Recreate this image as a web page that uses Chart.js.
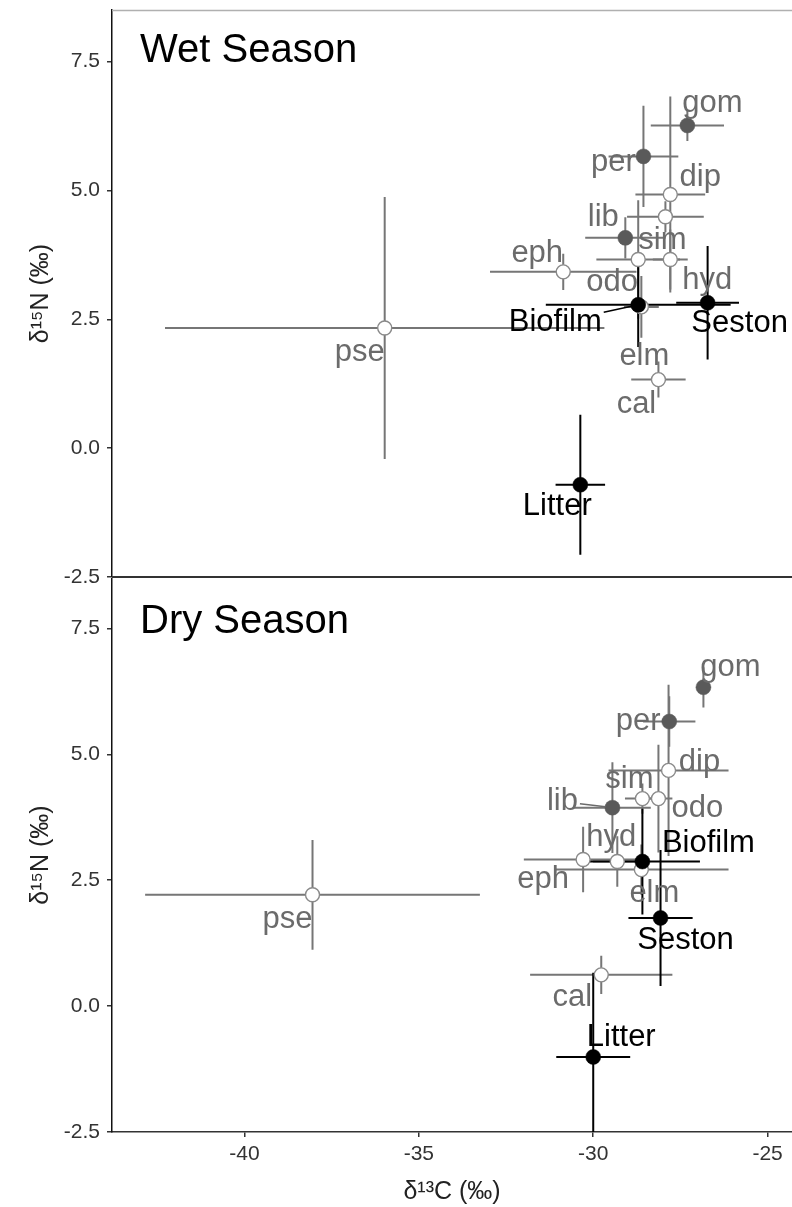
<!DOCTYPE html>
<html>
<head>
<meta charset="utf-8">
<script src="https://cdn.jsdelivr.net/npm/chart.js@4.4.0/dist/chart.umd.min.js"></script>
<style>
  body { margin: 0; background: #fff; }
  canvas { position: absolute; left: 0; }
  #wet { top: 0; }
  #dry { top: 578px; }
</style>
</head>
<body>
<canvas id="wet" width="792" height="600"></canvas>
<canvas id="dry" width="792" height="629"></canvas>
<script>
// consumers (same order in both seasons)
var taxa = ['gom', 'per', 'dip', 'sim', 'lib', 'odo', 'hyd', 'eph', 'elm', 'cal', 'pse'];
var predators = ['gom', 'per', 'lib'];
var sources = ['Biofilm', 'Seston', 'Litter'];

// wet season, consumers: mean d13C, mean d15N, sd
var wetC   = [-27.30, -28.56, -27.79, -27.93, -29.08, -28.71, -27.79, -30.86, -28.62, -28.13, -35.98];
var wetN   = [6.26, 5.66, 4.92, 4.49, 4.08, 3.66, 3.66, 3.42, 2.74, 1.33, 2.33];
var wetCsd = [1.05, 1.00, 1.00, 1.10, 1.15, 1.20, 0.50, 2.10, 0.50, 0.78, 6.30];
var wetNsd = [0.30, 0.98, 1.90, 0.30, 0.40, 1.15, 0.58, 0.35, 0.60, 0.35, 2.54];
// wet season, sources
var wetSrcC   = [-28.71, -26.72, -30.37];
var wetSrcN   = [2.78, 2.82, -0.71];
var wetSrcCsd = [2.65, 0.90, 0.71];
var wetSrcNsd = [0.82, 1.10, 1.36];

// dry season, consumers
var dryC   = [-26.84, -27.82, -27.84, -28.59, -29.45, -28.13, -29.31, -30.29, -28.62, -29.77, -38.05];
var dryN   = [6.33, 5.65, 4.68, 4.12, 3.94, 4.12, 2.87, 2.91, 2.71, 0.62, 2.21];
var dryCsd = [0.20, 0.75, 1.72, 0.50, 1.10, 0.40, 0.70, 1.70, 2.50, 2.04, 4.80];
var dryNsd = [0.40, 0.50, 1.70, 0.30, 0.90, 1.07, 0.50, 0.65, 0.50, 0.38, 1.09];
// dry season, sources
var drySrcC   = [-28.59, -28.07, -30.00];
var drySrcN   = [2.87, 1.75, -1.01];
var drySrcCsd = [1.65, 0.92, 1.06];
var drySrcNsd = [1.05, 1.35, 1.67];

var cTicks = [-40, -35, -30, -25];
var nTicks = [-2.5, 0, 2.5, 5, 7.5];

// label nudges in px (like ggrepel output)
var wetNudge = {
  gom: [25, -22], per: [-30, 6], dip: [30, -17], sim: [-3, 24], lib: [-22, -20],
  odo: [-26, 23], hyd: [37, 21], eph: [-26, -18], elm: [3, 50], cal: [-22, 25],
  pse: [-25, 24], Biofilm: [-83, 18], Seston: [32, 21], Litter: [-23, 22]
};
var dryNudge = {
  gom: [27, -20], per: [-31, 0], dip: [31, -8], sim: [-13, -19], lib: [-50, -6],
  odo: [39, 10], hyd: [-6, -24], eph: [-40, 20], elm: [13, 24], cal: [-29, 23],
  pse: [-25, 25], Biofilm: [66, -18], Seston: [25, 22], Litter: [28, -20]
};

var FONT = '"Liberation Sans", Arial, "DejaVu Sans", sans-serif';
Chart.defaults.font.family = FONT;

function subset(keep, C, N, Csd, Nsd) {
  var idx = [];
  taxa.forEach(function (t, i) { if (keep(t)) idx.push(i); });
  return {
    names: idx.map(function (i) { return taxa[i]; }),
    data: idx.map(function (i) { return { x: C[i], y: N[i] }; }),
    xErr: idx.map(function (i) { return Csd[i]; }),
    yErr: idx.map(function (i) { return Nsd[i]; })
  };
}

function seasonSets(C, N, Csd, Nsd, sC, sN, sCsd, sNsd) {
  var pred = subset(function (t) { return predators.indexOf(t) >= 0; }, C, N, Csd, Nsd);
  var rest = subset(function (t) { return predators.indexOf(t) < 0; }, C, N, Csd, Nsd);
  return [
    {
      label: 'sources', names: sources,
      data: sC.map(function (x, i) { return { x: x, y: sN[i] }; }),
      xErr: sCsd, yErr: sNsd,
      pointRadius: 7.5, pointBackgroundColor: '#000', pointBorderColor: '#000', pointBorderWidth: 0.5,
      barColor: '#000', textColor: '#000', order: 1
    },
    {
      label: 'predators', names: pred.names, data: pred.data, xErr: pred.xErr, yErr: pred.yErr,
      pointRadius: 7.5, pointBackgroundColor: '#5a5a5a', pointBorderColor: '#5a5a5a', pointBorderWidth: 0.5,
      barColor: '#767676', textColor: '#6b6b6b', order: 2
    },
    {
      label: 'others', names: rest.names, data: rest.data, xErr: rest.xErr, yErr: rest.yErr,
      pointRadius: 7, pointBackgroundColor: '#fff', pointBorderColor: '#8a8a8a', pointBorderWidth: 1.4,
      barColor: '#767676', textColor: '#6b6b6b', order: 3
    }
  ];
}

function panelPlugin(title, nudge, segs, isTop) {
  return {
    id: 'panel',
    beforeDatasetsDraw: function (chart) {
      var ctx = chart.ctx, a = chart.chartArea, xs = chart.scales.x, ys = chart.scales.y;
      ctx.save();
      ctx.beginPath();
      ctx.rect(a.left, a.top, a.right - a.left, a.bottom - a.top);
      ctx.clip();
      var sets = chart.data.datasets.slice().sort(function (p, q) { return q.order - p.order; });
      sets.forEach(function (ds) {
        ctx.strokeStyle = ds.barColor;
        ctx.lineWidth = 2;
        ds.data.forEach(function (p, i) {
          var px = xs.getPixelForValue(p.x), py = ys.getPixelForValue(p.y);
          ctx.beginPath();
          ctx.moveTo(xs.getPixelForValue(p.x - ds.xErr[i]), py);
          ctx.lineTo(xs.getPixelForValue(p.x + ds.xErr[i]), py);
          ctx.moveTo(px, ys.getPixelForValue(p.y - ds.yErr[i]));
          ctx.lineTo(px, ys.getPixelForValue(p.y + ds.yErr[i]));
          ctx.stroke();
        });
      });
      ctx.restore();
    },
    afterDatasetsDraw: function (chart) {
      var ctx = chart.ctx, xs = chart.scales.x, ys = chart.scales.y;
      ctx.save();
      ctx.font = '31px ' + FONT;
      ctx.textAlign = 'center';
      ctx.textBaseline = 'middle';
      chart.data.datasets.forEach(function (ds) {
        ds.data.forEach(function (p, i) {
          var name = ds.names[i], n = nudge[name] || [0, 0];
          var px = xs.getPixelForValue(p.x), py = ys.getPixelForValue(p.y);
          var lx = px + n[0], ly = py + n[1];
          if (segs.indexOf(name) >= 0) {
            var hw = ctx.measureText(name).width / 2 + 2, hh = 11;
            var vx = px - lx, vy = py - ly;
            var t = Math.min(hw / Math.abs(vx || 1e-6), hh / Math.abs(vy || 1e-6));
            var len = Math.sqrt(vx * vx + vy * vy);
            ctx.strokeStyle = ds.textColor;
            ctx.lineWidth = 1.5;
            ctx.beginPath();
            ctx.moveTo(lx + vx * t, ly + vy * t);
            ctx.lineTo(px - vx / len * 7, py - vy / len * 7);
            ctx.stroke();
          }
          ctx.fillStyle = ds.textColor;
          ctx.fillText(name, lx, ly);
        });
      });
      ctx.restore();
    },
    afterDraw: function (chart) {
      var ctx = chart.ctx, a = chart.chartArea;
      ctx.save();
      if (isTop) {
        ctx.strokeStyle = '#b0b0b0';
        ctx.lineWidth = 1.5;
        ctx.beginPath();
        ctx.moveTo(a.left, a.top + 0.5);
        ctx.lineTo(a.right, a.top + 0.5);
        ctx.stroke();
        ctx.strokeStyle = '#333';
        ctx.lineWidth = 2;
        ctx.beginPath();
        ctx.moveTo(a.left, a.bottom);
        ctx.lineTo(a.right, a.bottom);
        ctx.stroke();
      }
      ctx.fillStyle = '#000';
      ctx.font = '40px ' + FONT;
      ctx.textAlign = 'left';
      ctx.textBaseline = 'alphabetic';
      ctx.fillText(title, a.left + 28, a.top + (isTop ? 52 : 55));
      ctx.restore();
    }
  };
}

function makeChart(id, title, sets, isTop, nudge, segs) {
  return new Chart(document.getElementById(id), {
    type: 'scatter',
    data: { datasets: sets },
    options: {
      responsive: false,
      animation: false,
      layout: {
        autoPadding: false,
        padding: isTop ? { top: 10, bottom: 23, left: 0, right: 0 } : { top: 0, bottom: 0, left: 0, right: 0 }
      },
      plugins: { legend: { display: false }, tooltip: { enabled: false } },
      scales: {
        x: {
          type: 'linear', min: -43.8, max: -24.3,
          display: !isTop,
          afterBuildTicks: function (s) { s.ticks = cTicks.map(function (v) { return { value: v }; }); },
          afterFit: function (s) {
            if (!isTop) s.height = 75;
            s.paddingLeft = 0; s.paddingRight = 0;
          },
          ticks: { font: { size: 21 }, color: '#333', padding: 5, callback: function (v) { return String(v); } },
          grid: { drawOnChartArea: false, tickLength: 5, color: '#333', lineWidth: 1.5 },
          border: { color: '#333', width: 1.5 },
          title: { display: true, text: 'δ¹³C (‰)', font: { size: 25 }, color: '#222', padding: { top: 4, bottom: 0 } }
        },
        y: {
          type: 'linear', min: -2.5, max: 8.5,
          afterBuildTicks: function (s) { s.ticks = nTicks.map(function (v) { return { value: v }; }); },
          afterFit: function (s) {
            s.width = 112;
            s.paddingTop = 0; s.paddingBottom = 0;
          },
          ticks: { font: { size: 21 }, color: '#333', padding: 7, callback: function (v) { return v.toFixed(1); } },
          grid: { drawOnChartArea: false, tickLength: 5, color: '#333', lineWidth: 1.5 },
          border: { color: '#111', width: 1.5 },
          title: { display: true, text: 'δ¹⁵N (‰)', font: { size: 25 }, color: '#222', padding: { top: 26, bottom: 0 } }
        }
      }
    },
    plugins: [panelPlugin(title, nudge, segs, isTop)]
  });
}

makeChart('wet', 'Wet Season',
  seasonSets(wetC, wetN, wetCsd, wetNsd, wetSrcC, wetSrcN, wetSrcCsd, wetSrcNsd),
  true, wetNudge, ['Biofilm']);
makeChart('dry', 'Dry Season',
  seasonSets(dryC, dryN, dryCsd, dryNsd, drySrcC, drySrcN, drySrcCsd, drySrcNsd),
  false, dryNudge, ['lib']);
</script>
</body>
</html>
